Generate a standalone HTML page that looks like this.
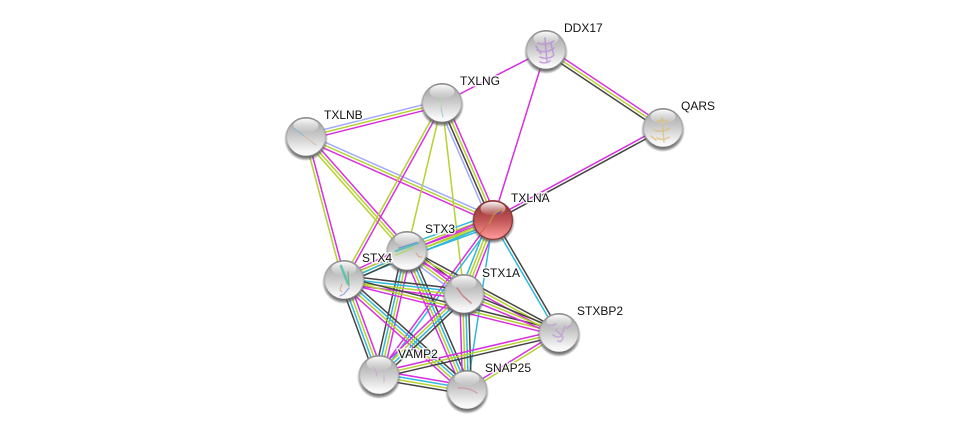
<!DOCTYPE html>
<html><head><meta charset="utf-8"><style>
html,body{margin:0;padding:0;background:#fff;width:976px;height:435px;overflow:hidden}
svg{display:block}
text{font-family:"Liberation Sans",sans-serif;font-size:12px;fill:#111;paint-order:stroke;stroke:rgba(255,255,255,.8);stroke-width:3px}
</style></head><body>
<svg id="s" width="976" height="435" viewBox="0 0 976 435" xmlns="http://www.w3.org/2000/svg">
<defs>
<linearGradient id="g" x1="0" y1="0" x2="0" y2="1"><stop offset="0" stop-color="#a0a0a0"/><stop offset=".45" stop-color="#c8c8c8"/><stop offset=".85" stop-color="#f4f4f4"/><stop offset="1" stop-color="#fdfdfd"/></linearGradient>
<linearGradient id="r" x1="0" y1="0" x2="0" y2="1"><stop offset="0" stop-color="#8c2c2c"/><stop offset=".5" stop-color="#c05555"/><stop offset=".9" stop-color="#f58e8e"/><stop offset="1" stop-color="#f9a0a0"/></linearGradient>
<linearGradient id="h" x1="0" y1="0" x2="0" y2="1"><stop offset="0" stop-color="#fff" stop-opacity=".95"/><stop offset="1" stop-color="#fff" stop-opacity=".05"/></linearGradient>
<linearGradient id="e" x1="0" y1="0" x2="0" y2="1"><stop offset="0" stop-color="#8a8a8a"/><stop offset=".6" stop-color="#bbb"/><stop offset="1" stop-color="#707070"/></linearGradient>
<radialGradient id="sh"><stop offset=".85" stop-color="#555" stop-opacity=".75"/><stop offset="1" stop-color="#555" stop-opacity="0"/></radialGradient>
<g id="n"><circle cx="0" cy="2" r="22" fill="url(#sh)"/><circle r="19.4" fill="url(#g)" stroke="url(#e)" stroke-width="1.2"/><ellipse cy="-11.5" rx="12.5" ry="6.8" fill="url(#h)"/></g>
<g id="m"><circle cx="0" cy="2" r="22" fill="url(#sh)"/><circle r="19.4" fill="url(#r)" stroke="#8a3434" stroke-width="1.2"/><ellipse cy="-11.5" rx="12.5" ry="6.8" fill="url(#h)"/></g>
</defs>
<g id="edges" fill="none" stroke-width="1.5"></g>

<use href="#n" x="546" y="50"/>
<use href="#n" x="663" y="128"/>
<use href="#n" x="442" y="103"/>
<use href="#n" x="306" y="137"/>
<use href="#m" x="493" y="220"/>
<use href="#n" x="407" y="251"/>
<use href="#n" x="344" y="280"/>
<use href="#n" x="464" y="294"/>
<use href="#n" x="559" y="333"/>
<use href="#n" x="379" y="375"/>
<use href="#n" x="467" y="390"/>

<g fill="none" stroke-linecap="round" opacity=".75">
<path d="M538 43q8 3 16-2M537 50q9 4 17-2M540 57q7 3 13-1M545 38l2 24M540 62q6 2 10-1M536 46l5 8M551 44l3 12" stroke="#b48ad8" stroke-width="1.6" stroke-dasharray="1.5 1"/>
<path d="M656 122q7-4 12 0M654 130q9 3 16-2M657 138q6 3 12-1M662 118l2 24M651 136l5 4" stroke="#d9bd72" stroke-width="1.5" stroke-dasharray="1.5 1"/>
<path d="M441 94q1 10 0 14" stroke="#b8d8a8" stroke-width="1"/><path d="M441 108l2 9" stroke="#7fc0d8" stroke-width="1"/>
<path d="M294 128l10 8" stroke="#6fb6d6" stroke-width="1"/><path d="M304 136l12 9" stroke="#d9b896" stroke-width="1.2"/>
<path d="M480 234l6-8" stroke="#d85a30" stroke-width="1.2" stroke-dasharray="2 1"/><path d="M489 224l5-10 8-5" stroke="#b89a40" stroke-width="1.4"/><path d="M497 214l4-2" stroke="#6a3a90" stroke-width="1.6"/>
<path d="M396 251l22-8" stroke="#40c0b0" stroke-width="2.4" stroke-dasharray="1 1"/><path d="M399 248l19-6" stroke="#5a80d8" stroke-width="1.2" stroke-dasharray="1 1"/><path d="M396 255l17-7" stroke="#a8d860" stroke-width="1.6" stroke-dasharray="1 1"/><path d="M416 253l3 4h3" stroke="#d88878" stroke-width="1"/>
<path d="M341 266l7 18" stroke="#40c0a8" stroke-width="2.6" stroke-dasharray="1 1"/><path d="M348 272l1 14" stroke="#60a860" stroke-width="1.4" stroke-dasharray="1 1"/><path d="M342 284l-2 6 2 2" stroke="#e09080" stroke-width="1"/><path d="M349 288l-5 6-4 2" stroke="#6a80d8" stroke-width="1"/>
<path d="M457 288l6 8 8 7" stroke="#c07878" stroke-width="1.6"/>
<path d="M548 325q4 1 8-1M553 335q6 4 9 0M558 341q4 2 5-4M565 326l-3 8M570 326l-4 3M556 330l6 6" stroke="#c09ad8" stroke-width="1.6" stroke-dasharray="1.5 1"/>
<path d="M373 367q3 2 4 9M384 375v7" stroke="#c8a0d0" stroke-width="1"/>
<path d="M458 388q10-1 19 5" stroke="#cc8aa0" stroke-width="1.2"/>
</g>

<text x="564" y="32">DDX17</text>
<text x="681" y="110">QARS</text>
<text x="460" y="85">TXLNG</text>
<text x="324" y="119">TXLNB</text>
<text x="511" y="202">TXLNA</text>
<text x="425" y="233">STX3</text>
<text x="362" y="262">STX4</text>
<text x="482" y="277">STX1A</text>
<text x="577" y="315">STXBP2</text>
<text x="398" y="358">VAMP2</text>
<text x="485" y="372">SNAP25</text>
</svg>
<script>
var P={D:[546,50],Q:[663,128],G:[442,103],B:[306,137],A:[493,220],S3:[407,251],S4:[344,280],S1:[464,294],X:[559,333],V:[379,375],N:[467,390]};
var C={m:"#d92fe0",y:"#b5d22e",k:"#444",c:"#2fb8dc",b:"#a3a8ff"};
var E=[["B","G","bym"],["B","A","bym"],["G","A","mykb"],["G","D","m"],["D","A","m"],["D","Q","myk"],["Q","A","km"],
["B","S4","my"],["B","S3","myy"],["G","S4","my"],["G","S3","y"],["G","S1","y"],
["A","S3","cymyc"],["A","S4","cym"],["A","S1","myyc"],["A","X","kc"],["A","V","cm"],["A","N","c"],
["S3","S4","kcym"],["S3","S1","kmyb"],["S3","X","kym"],["S3","V","myck"],["S3","N","kcym"],
["S4","S1","kcym"],["S4","X","kym"],["S4","V","myck"],["S4","N","kcym"],
["S1","X","kym"],["S1","V","kcym"],["S1","N","kcym"],["X","V","kym"],["X","N","ym"],["V","N","mcyk"]];
var g=document.getElementById("edges"),d=2.9;
E.forEach(function(e){var a=P[e[0]],b=P[e[1]],L=Math.hypot(b[0]-a[0],b[1]-a[1]),nx=-(b[1]-a[1])/L,ny=(b[0]-a[0])/L,n=e[2].length;
for(var i=0;i<n;i++){var o=(i-(n-1)/2)*d,l=document.createElementNS("http://www.w3.org/2000/svg","line");
l.setAttribute("x1",a[0]+nx*o);l.setAttribute("y1",a[1]+ny*o);l.setAttribute("x2",b[0]+nx*o);l.setAttribute("y2",b[1]+ny*o);l.setAttribute("stroke",C[e[2][i]]);g.appendChild(l)}});
</script>
</body></html>
